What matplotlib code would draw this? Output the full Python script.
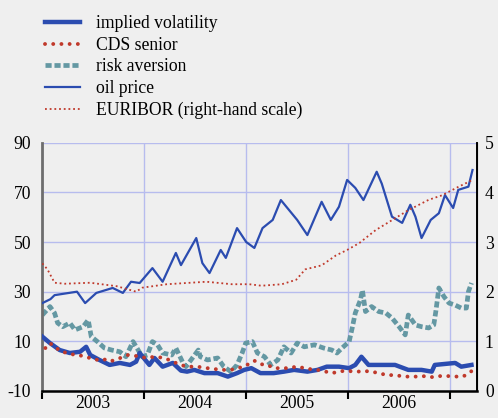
import numpy as np
import matplotlib.pyplot as plt

plt.rcParams['font.family'] = ['Liberation Serif', 'DejaVu Serif']
plt.rcParams['font.size'] = 12.7

# oil price (left scale)
oil_t = [2003.00, 2003.08, 2003.12, 2003.34, 2003.42, 2003.53, 2003.69, 2003.79, 2003.87, 2003.955,
         2004.08, 2004.18, 2004.31, 2004.36, 2004.51, 2004.57, 2004.64, 2004.75, 2004.80, 2004.91,
         2005.00, 2005.08, 2005.16, 2005.26, 2005.34, 2005.42, 2005.50, 2005.60, 2005.74, 2005.83,
         2005.91, 2005.99, 2006.07, 2006.15, 2006.28, 2006.33, 2006.43, 2006.53, 2006.61, 2006.66,
         2006.72, 2006.81, 2006.89, 2006.95, 2007.03, 2007.08, 2007.18, 2007.22]
oil_v = [25.4, 27.0, 28.6, 30.0, 25.4, 29.5, 31.5, 29.5, 34.0, 33.5,
         39.5, 34.0, 45.6, 40.7, 51.6, 41.5, 37.5, 46.8, 43.6, 55.6,
         50.0, 47.6, 55.6, 58.9, 66.9, 62.9, 58.9, 52.8, 66.2, 58.9,
         64.2, 75.0, 71.8, 66.9, 78.3, 73.5, 60.2, 57.7, 65.0, 60.2,
         51.6, 58.9, 61.6, 68.9, 63.7, 71.0, 72.3, 79.0]

# EURIBOR (right scale)
eur_t = [2003.00, 2003.05, 2003.12, 2003.22, 2003.47, 2003.73, 2003.92, 2003.98, 2004.22, 2004.61,
         2004.86, 2005.03, 2005.15, 2005.35, 2005.49, 2005.58, 2005.74, 2005.88, 2005.99, 2006.11,
         2006.27, 2006.43, 2006.59, 2006.79, 2006.92, 2007.08, 2007.22]
eur_v = [2.57, 2.45, 2.18, 2.16, 2.18, 2.11, 2.00, 2.08, 2.15, 2.20,
         2.15, 2.15, 2.12, 2.15, 2.24, 2.45, 2.53, 2.73, 2.84, 2.98,
         3.24, 3.44, 3.64, 3.85, 3.94, 4.11, 4.25]

# implied volatility (left scale)
vol_t = [2003.00, 2003.075, 2003.17, 2003.27, 2003.37, 2003.43, 2003.47, 2003.56, 2003.66, 2003.76,
         2003.86, 2003.92, 2003.955, 2004.05, 2004.10, 2004.18, 2004.28, 2004.36, 2004.42, 2004.49,
         2004.59, 2004.72, 2004.82, 2004.91, 2004.98, 2005.05, 2005.14, 2005.27, 2005.37, 2005.47,
         2005.60, 2005.70, 2005.79, 2005.91, 2006.01, 2006.07, 2006.13, 2006.20, 2006.33, 2006.46,
         2006.59, 2006.72, 2006.82, 2006.85, 2007.05, 2007.11, 2007.21]
vol_v = [11.9, 9.3, 6.5, 5.3, 5.8, 7.8, 4.5, 2.5, 0.5, 1.3,
         0.5, 1.8, 5.3, 0.5, 3.3, -0.2, 1.3, -1.8, -2.2, -1.5,
         -2.8, -2.8, -4.2, -2.8, -1.5, -0.8, -2.8, -2.8, -2.2, -1.5,
         -2.2, -1.5, -0.2, -0.2, -0.8, 0.5, 3.8, 0.5, 0.5, 0.5,
         -1.5, -1.5, -2.2, 0.5, 1.3, -0.2, 0.5]

# CDS senior (left scale)
cds_t = [2003.03, 2003.075, 2003.12, 2003.19, 2003.25, 2003.32, 2003.385, 2003.50, 2003.58, 2003.63,
         2003.68, 2003.74, 2003.84, 2003.92, 2004.02, 2004.10, 2004.20, 2004.28, 2004.36, 2004.42,
         2004.52, 2004.62, 2004.70, 2004.78, 2004.85, 2004.91, 2004.98, 2005.02, 2005.08, 2005.14,
         2005.21, 2005.27, 2005.34, 2005.42, 2005.49, 2005.55, 2005.63, 2005.70, 2005.78, 2005.84,
         2005.94, 2006.01, 2006.09, 2006.17, 2006.23, 2006.30, 2006.38, 2006.46, 2006.55, 2006.61,
         2006.69, 2006.76, 2006.82, 2006.89, 2006.95, 2007.03, 2007.10, 2007.16, 2007.21]
cds_v = [7.3, 9.3, 7.8, 5.8, 5.3, 4.5, 4.2, 2.9, 2.2, 2.9,
         2.1, 2.9, 4.5, 4.1, 3.3, 3.8, 3.3, 1.8, 0.5, -0.2,
         -0.2, -0.8, -1.2, -1.5, -1.5, -0.8, -0.2, 0.8, 2.2, 0.8,
         0.5, -0.8, -0.8, -0.8, -0.2, -0.6, -1.2, -1.5, -2.2, -2.8,
         -2.0, -2.0, -2.2, -2.0, -2.2, -2.8, -3.6, -3.6, -4.2, -4.2,
         -4.2, -4.0, -4.4, -4.0, -4.0, -4.0, -4.4, -3.6, -2.0]

# risk aversion (left scale)
risk_t = [2003.00, 2003.075, 2003.12, 2003.15, 2003.20, 2003.27, 2003.32, 2003.40, 2003.45, 2003.48,
          2003.54, 2003.61, 2003.68, 2003.76, 2003.82, 2003.89, 2003.94, 2003.98, 2004.03, 2004.08,
          2004.13, 2004.18, 2004.27, 2004.31, 2004.38, 2004.41, 2004.53, 2004.55, 2004.62, 2004.72,
          2004.78, 2004.85, 2004.91, 2004.96, 2004.995, 2005.06, 2005.11, 2005.18, 2005.24, 2005.31,
          2005.37, 2005.44, 2005.50, 2005.57, 2005.67, 2005.76, 2005.84, 2005.89, 2005.94, 2006.01,
          2006.04, 2006.07, 2006.12, 2006.14, 2006.17, 2006.23, 2006.30, 2006.37, 2006.43, 2006.50,
          2006.56, 2006.59, 2006.66, 2006.72, 2006.79, 2006.84, 2006.86, 2006.89, 2006.94, 2006.99,
          2007.05, 2007.11, 2007.16, 2007.18, 2007.21]
risk_v = [20.6, 24.0, 21.4, 17.4, 15.9, 17.4, 14.6, 15.9, 18.6, 11.9,
          9.9, 7.3, 6.5, 5.8, 3.8, 9.9, 6.5, 3.8, 4.5, 9.9,
          8.6, 5.3, 4.5, 7.3, 1.3, -0.2, 6.5, 3.8, 2.5, 3.3,
          -0.2, -2.2, 0.5, 5.3, 9.3, 9.9, 5.3, 3.8, 0.5, 2.5,
          7.8, 5.3, 9.3, 7.8, 8.6, 7.3, 6.5, 5.3, 7.3, 9.9,
          15.4, 21.4, 26.6, 30.6, 22.0, 24.0, 22.0, 21.4, 19.4, 15.9,
          12.6, 20.6, 16.6, 15.9, 15.4, 16.6, 22.0, 31.5, 28.0, 25.4,
          24.6, 23.4, 23.4, 30.0, 33.5]

years = [2003, 2004, 2005, 2006]

bg = '#efefef'
grid_c = '#b7bcee'
blue = '#2b4cb0'
red = '#c0392b'
teal = '#6498a3'

fig = plt.figure(figsize=(4.98, 4.18), dpi=100, facecolor=bg)
ax = fig.add_axes([0.085, 0.0646, 0.872, 0.594], facecolor=bg)
ax2 = ax.twinx()

ax.plot(vol_t, vol_v, color=blue, lw=3.2, solid_joinstyle='round', zorder=3)
ax.plot(cds_t, cds_v, color=red, lw=2.8, linestyle=(0, (0.01, 2.1)),
        dash_capstyle='round', zorder=4)
ax.plot(risk_t, risk_v, color=teal, lw=3.4, linestyle=(0, (1.3, 0.6)), zorder=2)
ax.plot(oil_t, oil_v, color=blue, lw=1.6, zorder=3)
ax2.plot(eur_t, eur_v, color=red, lw=1.3, linestyle=(0, (1, 1.6)), zorder=3)

ax.set_xlim(2003, 2007.26)
ax.set_ylim(-10, 90)
ax2.set_ylim(0, 5)
ax.set_yticks([-10, 10, 30, 50, 70, 90])
ax2.set_yticks([0, 1, 2, 3, 4, 5])
ax.set_yticklabels(['-10', '10', '30', '50', '70', '90'])

ax.set_xticks([2003, 2004, 2005, 2006, 2007])
ax.set_xticklabels([])
ax.set_xticks([y + 0.5 for y in years], minor=True)
ax.set_xticklabels([str(y) for y in years], minor=True)
ax.tick_params(axis='x', which='major', length=6, width=1.5, direction='out')
ax.tick_params(axis='x', which='minor', length=0, pad=3)
ax.tick_params(axis='y', length=0, pad=8)
ax2.tick_params(axis='y', length=0, pad=6)

ax.grid(True, which='major', color=grid_c, lw=1.0)
ax.set_axisbelow(True)

for a in (ax, ax2):
    a.spines['top'].set_visible(False)
ax.spines['left'].set_color('#6e6e6e')
ax.spines['left'].set_linewidth(2)
ax.spines['bottom'].set_linewidth(1.8)
ax2.spines['left'].set_visible(False)
ax2.spines['bottom'].set_visible(False)
ax2.spines['right'].set_linewidth(1.4)

handles = [
    plt.Line2D([], [], color=blue, lw=3.2),
    plt.Line2D([], [], color=red, lw=2.8, linestyle=(0, (0.01, 2.1)), dash_capstyle='round'),
    plt.Line2D([], [], color=teal, lw=3.4, linestyle=(0, (1.3, 0.6))),
    plt.Line2D([], [], color=blue, lw=1.6),
    plt.Line2D([], [], color=red, lw=1.3, linestyle=(0, (1, 1.6))),
]
labels = ['implied volatility', 'CDS senior', 'risk aversion', 'oil price',
          'EURIBOR (right-hand scale)']
fig.legend(handles, labels, loc='upper left', bbox_to_anchor=(0.065, 0.993),
           frameon=False, handlelength=2.0, handletextpad=0.9, labelspacing=0.26,
           borderaxespad=0.3)

fig.savefig('out.png', dpi=100, facecolor=bg)
